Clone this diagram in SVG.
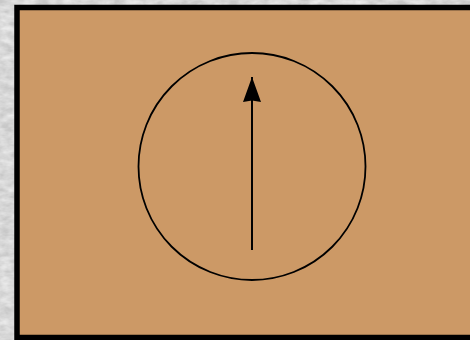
<svg xmlns="http://www.w3.org/2000/svg" width="470" height="340" viewBox="0 0 470 340">
  <style>
    .frame { fill: #cc9966; stroke: #000; stroke-width: 5.5; }
    .dial { fill: none; stroke: #000; stroke-width: 1.8; }
    .needle { stroke: #000; stroke-width: 2; fill: none; }
  </style>
  <defs>
    <filter id="marble" x="0" y="0" width="100%" height="100%">
      <feTurbulence type="fractalNoise" baseFrequency="0.08 0.15" numOctaves="3" seed="4" result="n"/>
      <feColorMatrix in="n" type="matrix" values="0 0 0 0 0.93  0 0 0 0 0.93  0 0 0 0 0.93  -1.2 0 0 0 0.9" result="c"/>
      <feComposite in="c" in2="SourceGraphic" operator="over"/>
    </filter>
    <marker id="head" viewBox="0 0 25 18" refX="25" refY="9" markerWidth="25" markerHeight="18" markerUnits="userSpaceOnUse" orient="auto">
      <path d="M0,0 L25,9 L0,18 L1.5,9 Z" fill="#000"/>
    </marker>
  </defs>
  <rect x="0" y="0" width="470" height="340" fill="#c8c8c8" filter="url(#marble)"/>
  <g id="panel">
    <rect class="frame" x="17" y="7.5" width="470" height="330"/>
  </g>
  <g id="dial">
    <circle class="dial" cx="252" cy="166.5" r="113.5"/>
  </g>
  <g id="connectors">
    <line class="needle" x1="252" y1="250" x2="252" y2="77" marker-end="url(#head)"/>
  </g>
</svg>
